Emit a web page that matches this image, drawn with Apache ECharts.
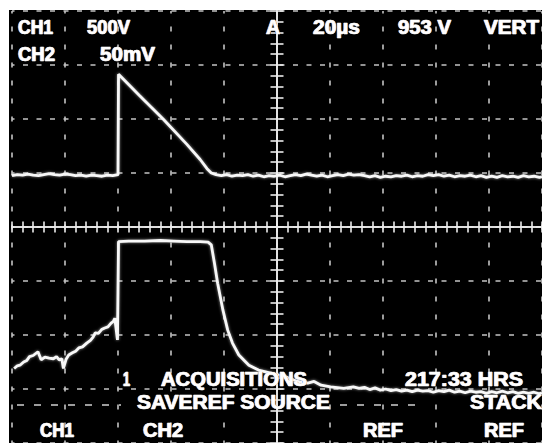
<!DOCTYPE html>
<html><head><meta charset="utf-8">
<script src="https://cdn.jsdelivr.net/npm/echarts@6/dist/echarts.min.js"></script>
<style>
html,body{margin:0;padding:0;background:#fff;}
#wrap{position:relative;width:542px;height:443px;overflow:hidden;background:#fff;}
#c{position:absolute;left:9px;top:10px;width:533px;height:433px;}
</style>
</head><body><div id="wrap"><div id="c"></div></div>
<script>
// Screen units: x in horizontal divisions (-5..5, 20 µs/div), y in vertical divisions (-4..4)
const ch1Trace = [
 [-5.0,0.95],[-4.9,0.97],[-4.8,0.96],[-4.7,0.98],[-4.6,0.96],[-4.5,0.95],[-4.4,0.97],[-4.3,0.99],[-4.2,0.97],[-4.1,0.96],
 [-4.0,0.98],[-3.9,0.97],[-3.8,0.95],[-3.7,0.96],[-3.6,0.94],[-3.5,0.96],[-3.4,0.95],[-3.3,0.94],[-3.2,0.96],[-3.1,0.95],[-3.0,0.97],
 [-2.99,2.83],[-2.6,2.44],[-2.14,1.99],[-1.7,1.53],[-1.45,1.25],[-1.32,1.08],[-1.24,1.0],[-1.15,0.97],
 [-1.05,0.95],[-0.95,0.97],[-0.85,0.94],[-0.75,0.96],[-0.65,0.95],[-0.55,0.97],[-0.45,0.94],[-0.35,0.96],[-0.25,0.93],[-0.15,0.95],
 [-0.05,0.94],[0.05,0.96],[0.15,0.93],[0.25,0.95],[0.35,0.97],[0.45,0.95],[0.55,0.98],[0.65,0.96],[0.75,0.94],[0.85,0.96],
 [0.95,0.93],[1.05,0.95],[1.15,0.97],[1.25,0.95],[1.35,0.98],[1.45,0.96],[1.55,0.97],[1.65,0.95],[1.75,0.93],[1.85,0.95],
 [1.95,0.92],[2.05,0.94],[2.15,0.93],[2.25,0.95],[2.35,0.94],[2.45,0.96],[2.55,0.93],[2.65,0.95],[2.75,0.94],[2.85,0.97],
 [2.95,0.95],[3.05,0.97],[3.15,0.94],[3.25,0.96],[3.35,0.93],[3.45,0.95],[3.55,0.94],[3.65,0.96],[3.75,0.93],[3.85,0.95],
 [3.95,0.92],[4.05,0.94],[4.15,0.92],[4.25,0.95],[4.35,0.93],[4.45,0.94],[4.55,0.92],[4.65,0.95],[4.75,0.93],[4.85,0.94],[4.95,0.92],[5.0,0.93]
];
const ch2Trace = [
 [-4.96,-2.62],[-4.9,-2.57],[-4.85,-2.56],[-4.78,-2.50],[-4.72,-2.47],[-4.67,-2.40],[-4.6,-2.38],[-4.51,-2.31],[-4.45,-2.46],[-4.38,-2.41],
 [-4.3,-2.43],[-4.22,-2.44],[-4.16,-2.40],[-4.11,-2.46],[-4.06,-2.44],[-4.03,-2.62],[-3.98,-2.45],[-3.93,-2.37],[-3.86,-2.33],[-3.8,-2.30],
 [-3.74,-2.24],[-3.67,-2.22],[-3.59,-2.15],[-3.52,-2.10],[-3.47,-2.04],[-3.43,-1.96],[-3.37,-1.97],[-3.31,-1.90],[-3.25,-1.87],[-3.19,-1.85],
 [-3.13,-1.78],[-3.09,-1.75],[-3.06,-1.69],[-3.01,-2.09],[-2.99,-0.27],
 [-2.8,-0.26],[-2.5,-0.26],[-2.2,-0.25],[-1.95,-0.26],[-1.7,-0.27],[-1.45,-0.27],[-1.30,-0.28],
 [-1.24,-0.33],[-1.18,-0.67],[-1.12,-1.04],[-1.02,-1.54],[-0.93,-1.91],[-0.84,-2.15],[-0.72,-2.37],[-0.53,-2.56],[-0.35,-2.65],
 [-0.10,-2.71],[0.15,-2.77],[0.39,-2.86],[0.58,-2.89],[0.70,-2.86],[0.83,-2.93],[1.01,-2.96],[1.26,-2.99],[1.44,-2.96],
 [1.55,-2.99],[1.65,-2.97],[1.75,-3.01],[1.85,-2.98],[1.95,-3.02],[2.05,-3.00],[2.15,-3.03],[2.25,-3.01],[2.35,-3.04],[2.45,-3.02],
 [2.55,-3.05],[2.65,-3.02],[2.75,-3.04],[2.85,-3.03],[2.95,-3.06],[3.05,-3.03],[3.15,-3.05],[3.25,-3.02],[3.35,-3.06],[3.45,-3.04],
 [3.55,-3.07],[3.65,-3.04],[3.75,-3.06],[3.85,-3.05],[3.95,-3.08],[4.05,-3.05],[4.15,-3.07],[4.25,-3.04],[4.35,-3.07],[4.45,-3.05],
 [4.55,-3.08],[4.65,-3.06],[4.75,-3.08],[4.85,-3.06],[4.95,-3.09],[5.0,-3.07]
];
const readoutText = ['CH1','500V','A','20\u00b5s','953 V','VERT','CH2','50mV',
  '1','ACQUISITIONS','217:33 HRS','SAVEREF SOURCE','STACK','CH1','CH2','REF','REF'];

// layout (page px): left x, cap-centre y, target width
const readoutLayout = [
  [18,28.3,35],[87,28.3,43],[266,28.3,14],[313,28.3,47],[398,28.3,53],[484,28.3,55],
  [18,54.7,37],[100,54.7,55],
  [123,380,7],[161,380,146],[405,380,118],
  [137,403.4,193],[470,403.4,72],
  [40,431.5,34],[143,431.5,40],[363,431.5,40],[484,431.5,40]
];
const OX = 9, OY = 10;
const FONT = "bold 19.5px 'Liberation Sans', Arial, Helvetica, sans-serif";
const meas = document.createElement('canvas').getContext('2d');
meas.font = FONT;

const graphics = [];
readoutText.forEach((t, i) => {
  const [x, y, w] = readoutLayout[i];
  const sx = w / meas.measureText(t).width;
  const layers = [[-1,'rgba(80,150,255,0.75)',0],[1,'rgba(255,160,60,0.75)',0],[0,'#ffffff',0.6]];
  layers.forEach(([dx, col, sw]) => {
    const st = {text:t, fill:col, font:FONT, textVerticalAlign:'middle', verticalAlign:'middle', textAlign:'left', align:'left'};
    if (sw) { st.stroke = '#ffffff'; st.lineWidth = sw; }
    graphics.push({type:'text', x: x - OX + dx, y: y - OY + 0.5, scaleX: sx, z: 100, style: st});
  });
});
// menu separator dashes
[[17,121],[340,422]].forEach(([a,b]) => {
  graphics.push({type:'line', z: 90, shape:{x1:a-OX, y1:405-OY, x2:b-OX, y2:405-OY},
    style:{stroke:'#d0d0d0', lineWidth:1.5, lineDash:[7,10]}});
});

const gridCol = '#c4c4c4';
const centreCol = '#ececec';
function centreX(inside){
  return {type:'value', min:-5, max:5, interval:0.2, position:'bottom', gridIndex:0,
    axisLine:{show:true, onZero:true, onZeroAxisIndex:0, lineStyle:{color:centreCol, width:1.6}},
    axisTick:{show:true, inside:inside, length:5.5, lineStyle:{color:centreCol, width:1.6}},
    axisLabel:{show:false}, splitLine:{show:false}};
}
function centreY(inside){
  return {type:'value', min:-4, max:4, interval:0.2, position:'left', gridIndex:0,
    axisLine:{show:true, onZero:true, onZeroAxisIndex:0, lineStyle:{color:centreCol, width:1.6}},
    axisTick:{show:true, inside:inside, length:6.5, lineStyle:{color:centreCol, width:1.6}},
    axisLabel:{show:false}, splitLine:{show:false}};
}
const chart = echarts.init(document.getElementById('c'), null, {renderer:'canvas'});
chart.setOption({
  backgroundColor:'#000',
  animation:false,
  grid:{left:3, top:1, width:540, height:432, containLabel:false},
  xAxis:[
    {type:'value', min:-5, max:5, interval:1, position:'bottom',
     axisLine:{show:false}, axisTick:{show:false}, axisLabel:{show:false},
     splitLine:{show:true, lineStyle:{color:gridCol, width:1.6, type:[5,13], dashOffset:2.5}}},
    centreX(false), centreX(true)
  ],
  yAxis:[
    {type:'value', min:-4, max:4, interval:1, position:'left',
     axisLine:{show:false}, axisTick:{show:false}, axisLabel:{show:false},
     splitLine:{show:true, lineStyle:{color:gridCol, width:1.6, type:[5,8.5], dashOffset:2.5}}},
    centreY(false), centreY(true)
  ],
  series:[
    {type:'line', name:'CH1', data:ch1Trace, xAxisIndex:0, yAxisIndex:0, showSymbol:false, symbol:'none',
     lineStyle:{color:'#f8f8f8', width:2.8, shadowBlur:3, shadowColor:'rgba(255,255,255,0.6)'}, z:5},
    {type:'line', name:'CH2', data:ch2Trace, xAxisIndex:0, yAxisIndex:0, showSymbol:false, symbol:'none',
     lineStyle:{color:'#f8f8f8', width:2.8, shadowBlur:3, shadowColor:'rgba(255,255,255,0.6)'}, z:5}
  ],
  graphic: graphics
});
</script>
</body></html>
